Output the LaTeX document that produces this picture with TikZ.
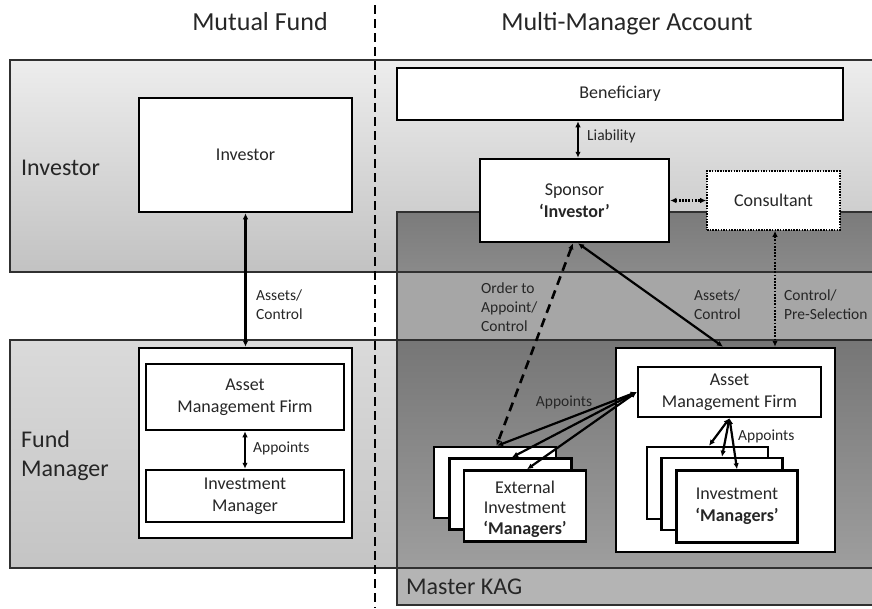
\documentclass[tikz,border=0pt]{standalone}
\usepackage{fontspec}
\setmainfont{Carlito}
\usetikzlibrary{arrows.meta}
\definecolor{txt}{HTML}{262626}
\definecolor{bandline}{HTML}{303030}
\definecolor{invtop}{HTML}{EDEDED}
\definecolor{invbot}{HTML}{C2C2C2}
\definecolor{fmtop}{HTML}{DADADA}
\definecolor{fmbot}{HTML}{C4C4C4}
\definecolor{kagA}{HTML}{7B7B7B}
\definecolor{kagB}{HTML}{8A8A8A}
\definecolor{kagGap}{HTML}{A6A6A6}
\definecolor{kagC}{HTML}{767676}
\definecolor{kagD}{HTML}{9E9E9E}
\definecolor{kagBot}{HTML}{B4B4B4}
\begin{document}
\begin{tikzpicture}[x=1pt,y=-1pt,
  box/.style={draw=black, line width=2.5pt, fill=white, inner sep=0pt, align=center, text=txt, font=\fontsize{18}{21.6}\selectfont},
  boxtext/.style={inner sep=0pt, align=center, text=txt, font=\fontsize{18}{20.5}\selectfont},
  lbl/.style={inner sep=0pt, align=left, anchor=west, text=txt, font=\fontsize{15.5}{19}\selectfont},
  big/.style={inner sep=0pt, align=left, text=txt, font=\fontsize{24}{29}\selectfont},
  ttl/.style={inner sep=0pt, text=txt, font=\fontsize{26}{31}\selectfont},
  conn/.style={line width=2.2pt, {Latex[length=6pt,width=5.5pt]}-{Latex[length=6pt,width=5.5pt]}},
  bandstroke/.style={draw=bandline, line width=1.2pt},
  dotconn/.style={dash pattern=on 1.8pt off 1.4pt},
  dashconn/.style={line width=2.6pt, dash pattern=on 9pt off 6pt},
]
\useasboundingbox (0,0) rectangle (872,608);
% bands
\shade[top color=invtop, bottom color=invbot] (10,60) rectangle (872,272);
\shade[top color=fmtop, bottom color=fmbot] (10,340) rectangle (872,568);
% Master KAG pieces
\shade[top color=kagA, bottom color=kagB] (397,212) rectangle (872,272);
\fill[kagGap] (397,272) rectangle (872,340);
\shade[top color=kagC, bottom color=kagD] (397,340) rectangle (872,568);
\fill[kagBot] (397,568) rectangle (872,605);
% strokes
\draw[bandstroke] (872,60) -- (10,60) -- (10,272) -- (872,272);
\draw[bandstroke] (872,340) -- (10,340) -- (10,568) -- (872,568);
\draw[bandstroke] (872,212) -- (397,212) -- (397,605) -- (872,605);
% divider
\draw[line width=2.8pt, dash pattern=on 9pt off 5pt] (375,5) -- (375,608);
% titles and band labels
\node[ttl, anchor=base] (t1) at (260,30) {Mutual Fund};
\node[ttl, anchor=base] (t2) at (627,30) {Multi-Manager Account};
\node[big, anchor=base west] (binv) at (21,175) {Investor};
\node[big, anchor=west] (bfm) at (21,456) {Fund\\Manager};
\node[big, anchor=base west] (bkag) at (406,594) {Master KAG};
% left side
\node[box, minimum width=213pt, minimum height=114pt] (inv) at (245.5,155) {Investor};
\node[box, minimum width=213pt, minimum height=190pt] (fmo) at (245.5,443) {};
\node[box, minimum width=198pt, minimum height=66pt] (amf1) at (245,397) {Asset\\Management Firm};
\node[box, minimum width=198pt, minimum height=52pt] (im1) at (245,496) {Investment\\Manager};
% right side
\node[box, minimum width=446pt, minimum height=52pt] (ben) at (620,94) {Beneficiary};
\node[box, minimum width=189pt, minimum height=83pt] (spon) at (574.5,200.5) {Sponsor\\\textbf{‘Investor’}};
\node[box, line width=1.6pt, dash pattern=on 1.5pt off 1.2pt, minimum width=133pt, minimum height=59pt] (cons) at (773.5,200.5) {Consultant};
\node[box, minimum width=219pt, minimum height=204pt] (amfo) at (725.5,450) {};
\node[box, minimum width=183pt, minimum height=50pt] (amf2) at (729.5,392) {Asset\\Management Firm};
\node[box, minimum width=121pt, minimum height=72pt] (ima) at (707.5,483) {};
\node[box, minimum width=121pt, minimum height=72pt] (imb) at (722,494) {};
\node[box, minimum width=121pt, minimum height=72pt] (imc) at (737,506.5) {Investment\\\textbf{‘Managers’}};
\node[box, minimum width=122pt, minimum height=71pt] (exa) at (495,482.5) {};
\node[box, minimum width=122pt, minimum height=71pt] (exb) at (510.5,494) {};
\node[box, minimum width=122pt, minimum height=71pt] (exc) at (525,506) {};
\node[boxtext] (exctext) at (525,509) {External\\Investment\\\textbf{‘Managers’}};
% helper coordinates
\coordinate (lx) at (578,0);
\coordinate (cx) at (775,0);
% connectors left
\draw[conn] (inv.south) -- (fmo.north);
\node[lbl] (l1) at (256,305) {Assets/\\Control};
\draw[conn] (amf1.south) -- (im1.north);
\node[lbl] (l2) at (253,448) {Appoints};
% connectors right
\draw[conn] (ben.south -| lx) -- (spon.north -| lx);
\node[lbl] (l3) at (587,136) {Liability};
\draw[conn, dotconn] (spon.east) -- (cons.west);
\draw[conn, line width=1.7pt, dotconn] (cons.south -| cx) -- (amfo.north -| cx);
\node[lbl] (l4) at (784,305) {Control/\\Pre-Selection};
\draw[conn] ([xshift=3.5pt]spon.south) -- ([xshift=-2.5pt]amfo.north);
\node[lbl] (l5) at (694,305) {Assets/\\Control};
\draw[conn, dashconn] ([xshift=-1.5pt]spon.south) -- ([xshift=1.5pt]exa.north);
\node[lbl] (l6) at (481,307) {Order to\\Appoint/\\Control};
\draw[conn] (amf2.west) -- ([xshift=2pt]exa.north);
\draw[conn] (amf2.west) -- ([xshift=1.5pt]exb.north);
\draw[conn] (amf2.west) -- ([xshift=2pt]exc.north);
\node[lbl, anchor=center] (l7) at (564,402) {Appoints};
\draw[conn] (amf2.south) -- ([xshift=1.5pt]ima.north);
\draw[conn] (amf2.south) -- (imb.north);
\draw[conn] (amf2.south) -- (imc.north);
\node[lbl] (l8) at (738,436) {Appoints};
\end{tikzpicture}
\end{document}
